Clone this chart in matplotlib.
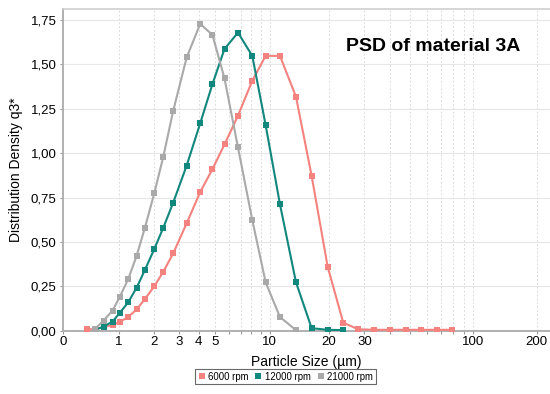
import numpy as np
import matplotlib
matplotlib.use("Agg")
import matplotlib.pyplot as plt
from matplotlib.ticker import FixedLocator, FuncFormatter

plt.rcParams['font.family'] = ['Liberation Sans', 'DejaVu Sans']

# ---- data ----
sizes = [0.35, 0.50, 0.66, 0.85, 1.02, 1.23, 1.46, 1.71, 2.02, 2.35, 2.75, 3.37,
         4.09, 4.84, 5.68, 6.76, 8.09, 9.53, 11.33, 13.7, 16.45, 19.78, 23.64,
         28.0, 33.5, 39.96, 47.56, 56.3, 67.0, 79.5]

q_6000 = [0.008, 0.008, 0.020, 0.032, 0.050, 0.077, 0.120, 0.178, 0.250, 0.332,
          0.435, 0.605, 0.781, 0.910, 1.049, 1.211, 1.408, 1.548, 1.548, 1.318,
          0.872, 0.361, 0.045, 0.008, 0.005, 0.005, 0.005, 0.005, 0.005, 0.005]

q_12000 = [None, 0.005, 0.023, 0.051, 0.101, 0.160, 0.242, 0.342, 0.460, 0.580,
           0.721, 0.930, 1.168, 1.389, 1.587, 1.679, 1.548, 1.159, 0.712, 0.273,
           0.014, 0.005, 0.003]

q_21000 = [None, 0.010, 0.057, 0.113, 0.192, 0.291, 0.421, 0.580, 0.774, 0.980,
           1.238, 1.539, 1.728, 1.666, 1.421, 1.032, 0.624, 0.273, 0.077, 0.003]

series_labels = ["6000 rpm", "12000 rpm", "21000 rpm"]
series_colors = ["#f4827f", "#12877d", "#a9a9a9"]

x_ticks = [0, 1, 2, 3, 4, 5, 10, 20, 30, 100, 200]
x_minor = [6, 7, 8, 9, 40, 50, 60, 70, 80, 90]
y_ticks = [0.0, 0.25, 0.5, 0.75, 1.0, 1.25, 1.5, 1.75]

# ---- figure ----
fig = plt.figure(figsize=(5.5, 3.94), dpi=100)
ax = fig.add_axes([0.1145, 0.1607, 0.8855, 0.8165])

fwd = lambda v: np.log10(np.asarray(v, dtype=float) + 1.2)
inv = lambda v: 10 ** np.asarray(v, dtype=float) - 1.2
ax.set_xscale('function', functions=(fwd, inv))

for vals, lab, col in zip([q_6000, q_12000, q_21000], series_labels, series_colors):
    xs = [s for s, v in zip(sizes, vals) if v is not None]
    ys = [v for v in vals if v is not None]
    ax.plot(xs, ys, color=col, lw=1.5, marker='s', markersize=3.8,
            markeredgewidth=0, label=lab, zorder=3)

ax.set_xlim(0, 231)
ax.set_ylim(0, 1.812)

ax.xaxis.set_major_locator(FixedLocator(x_ticks))
ax.xaxis.set_minor_locator(FixedLocator(x_minor))
ax.xaxis.set_major_formatter(FuncFormatter(lambda v, p: f"{v:g}"))
ax.yaxis.set_major_locator(FixedLocator(y_ticks))
ax.yaxis.set_major_formatter(FuncFormatter(lambda v, p: f"{v:.2f}".replace('.', ',')))

# grid
for gx in [1, 2, 3, 4, 5, 6, 7, 8, 9, 10, 20, 30, 40, 50, 60, 70, 80, 90, 100, 200]:
    ax.axvline(gx, color='#dcdcdc', lw=0.7, ls=(0, (2, 2)), zorder=1)
for gy in y_ticks[1:]:
    ax.axhline(gy, color='#e6e6e6', lw=0.8, zorder=1)

ax.tick_params(axis='both', which='major', labelsize=9.5, color='#999999',
               length=2.5, width=0.8, pad=1.5)
ax.tick_params(axis='x', which='minor', color='#999999', length=2, width=0.8)
ax.tick_params(axis='y', pad=2)

for side in ['left', 'bottom']:
    ax.spines[side].set_color('#b0b0b0')
    ax.spines[side].set_linewidth(1.4)
ax.spines['top'].set_color('#d0d0d0')
ax.spines['top'].set_linewidth(1.2)
ax.spines['right'].set_visible(False)

ax.set_xlabel("Particle Size (µm)", fontsize=10, labelpad=5)
ax.set_ylabel("Distribution Density q3*", fontsize=10, labelpad=6)

ax.text(0.761, 0.883, "PSD of material 3A", transform=ax.transAxes,
        fontsize=14, fontweight='bold', ha='center', va='center')

leg = fig.legend(loc='lower center', bbox_to_anchor=(0.519, 0.012), ncol=3,
                 fontsize=6.9, frameon=True, fancybox=False, handlelength=0.8,
                 handletextpad=0.3, columnspacing=0.6, borderpad=0.3,
                 markerscale=1.1)
leg.get_frame().set_edgecolor('#444444')
leg.get_frame().set_linewidth(0.8)
for h in leg.legend_handles:
    h.set_linestyle('None')

fig.savefig("out.png", dpi=100)
